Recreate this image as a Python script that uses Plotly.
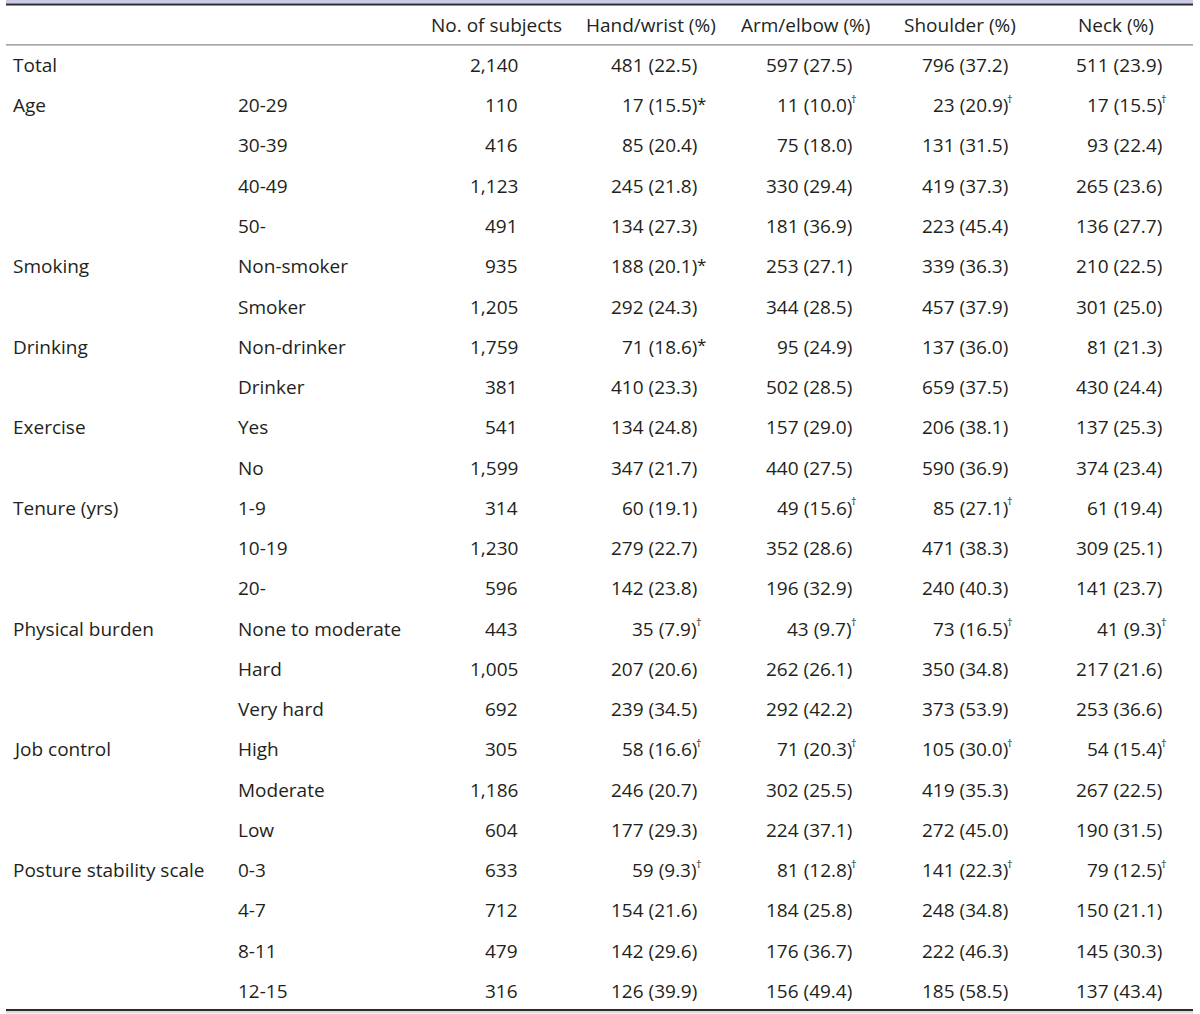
import plotly.graph_objects as go

# ---------------- data ----------------
headers = ["No. of subjects", "Hand/wrist (%)", "Arm/elbow (%)", "Shoulder (%)", "Neck (%)"]
groups = ["Total", "Age", "", "", "", "Smoking", "", "Drinking", "", "Exercise", "",
          "Tenure (yrs)", "", "", "Physical burden", "", "", "Job control", "", "",
          "Posture stability scale", "", "", ""]
subgroups = ["", "20-29", "30-39", "40-49", "50-", "Non-smoker", "Smoker", "Non-drinker", "Drinker",
             "Yes", "No", "1-9", "10-19", "20-", "None to moderate", "Hard", "Very hard",
             "High", "Moderate", "Low", "0-3", "4-7", "8-11", "12-15"]
subjects = [2140, 110, 416, 1123, 491, 935, 1205, 1759, 381, 541, 1599, 314, 1230, 596,
            443, 1005, 692, 305, 1186, 604, 633, 712, 479, 316]

hand_n = [481, 17, 85, 245, 134, 188, 292, 71, 410, 134, 347, 60, 279, 142, 35, 207, 239,
          58, 246, 177, 59, 154, 142, 126]
hand_pct = ["22.5", "15.5", "20.4", "21.8", "27.3", "20.1", "24.3", "18.6", "23.3", "24.8", "21.7",
            "19.1", "22.7", "23.8", "7.9", "20.6", "34.5", "16.6", "20.7", "29.3", "9.3", "21.6",
            "29.6", "39.9"]
hand_mark = ["", "*", "", "", "", "*", "", "*", "", "", "", "", "", "", "†", "", "", "†", "", "",
             "†", "", "", ""]

arm_n = [597, 11, 75, 330, 181, 253, 344, 95, 502, 157, 440, 49, 352, 196, 43, 262, 292, 71,
         302, 224, 81, 184, 176, 156]
arm_pct = ["27.5", "10.0", "18.0", "29.4", "36.9", "27.1", "28.5", "24.9", "28.5", "29.0", "27.5",
           "15.6", "28.6", "32.9", "9.7", "26.1", "42.2", "20.3", "25.5", "37.1", "12.8", "25.8",
           "36.7", "49.4"]
arm_mark = ["", "†", "", "", "", "", "", "", "", "", "", "†", "", "", "†", "", "", "†", "", "",
            "†", "", "", ""]

shoulder_n = [796, 23, 131, 419, 223, 339, 457, 137, 659, 206, 590, 85, 471, 240, 73, 350, 373,
              105, 419, 272, 141, 248, 222, 185]
shoulder_pct = ["37.2", "20.9", "31.5", "37.3", "45.4", "36.3", "37.9", "36.0", "37.5", "38.1",
                "36.9", "27.1", "38.3", "40.3", "16.5", "34.8", "53.9", "30.0", "35.3", "45.0",
                "22.3", "34.8", "46.3", "58.5"]
shoulder_mark = ["", "†", "", "", "", "", "", "", "", "", "", "†", "", "", "†", "", "", "†", "",
                 "", "†", "", "", ""]

neck_n = [511, 17, 93, 265, 136, 210, 301, 81, 430, 137, 374, 61, 309, 141, 41, 217, 253, 54,
          267, 190, 79, 150, 145, 137]
neck_pct = ["23.9", "15.5", "22.4", "23.6", "27.7", "22.5", "25.0", "21.3", "24.4", "25.3", "23.4",
            "19.4", "25.1", "23.7", "9.3", "21.6", "36.6", "15.4", "22.5", "31.5", "12.5", "21.1",
            "30.3", "43.4"]
neck_mark = ["", "†", "", "", "", "", "", "", "", "", "", "", "", "", "†", "", "", "†", "", "",
             "†", "", "", ""]

# ---------------- style / layout ----------------
W, H = 1200, 1014
FONT = "Open Sans"
FS = 19
TXT = "#231f20"
ROW_H = 40.26
ROW0 = 24.7          # pixel centre of header row

col_group_x = 11
col_sub_x = 236
col_n_right = 520
region_right = [699, 854, 1010, 1164]
header_centers = [496, 651, 805, 960, 1116]

y_top = -ROW0 / ROW_H
y_bot = y_top + H / ROW_H

fig = go.Figure()
fig.add_trace(go.Scatter(x=[None], y=[None], showlegend=False, hoverinfo="skip"))

ann = []
def add(x, y, text, anchor, size=FS, yshift=0, xshift=0):
    ann.append(dict(x=x, y=y, xref="x", yref="y", text=text, showarrow=False,
                    xanchor=anchor, yanchor="middle", yshift=yshift, xshift=xshift,
                    font=dict(family=FONT, size=size, color=TXT)))

# header row (row 0)
for h, cx in zip(headers, header_centers):
    add(cx, 0, h, "center")

regions = [(hand_n, hand_pct, hand_mark), (arm_n, arm_pct, arm_mark),
           (shoulder_n, shoulder_pct, shoulder_mark), (neck_n, neck_pct, neck_mark)]

for i in range(len(subgroups)):
    r = i + 1
    if groups[i]:
        add(col_group_x, r, groups[i], "left")
    if subgroups[i]:
        add(col_sub_x, r, subgroups[i], "left")
    add(col_n_right, r, f"{subjects[i]:,}", "right")
    for (cn, cp, cm), xr in zip(regions, region_right):
        add(xr, r, f"{cn[i]} ({cp[i]})", "right")
        m = cm[i]
        if m == "†":
            add(xr, r, m, "left", size=11, yshift=7, xshift=-5)
        elif m == "*":
            add(xr, r, m, "left", size=17, yshift=2, xshift=-4)

shapes = [
    # top lavender band and dark rule
    dict(type="rect", xref="x", yref="paper", x0=6, x1=1193, y0=1 - 3.5 / H, y1=1,
         fillcolor="#c9cbe6", line_width=0, layer="below"),
    dict(type="rect", xref="x", yref="paper", x0=6, x1=1193, y0=1 - 5.6 / H, y1=1 - 3.4 / H,
         fillcolor="#2b2b2b", line_width=0),
    # header rule
    dict(type="line", xref="x", yref="y", x0=6, x1=1193, y0=0.5, y1=0.5,
         line=dict(color="#8a8a8a", width=1.2)),
    # bottom rule
    dict(type="rect", xref="x", yref="paper", x0=6, x1=1193, y0=1 - 1011.2 / H, y1=1 - 1009 / H,
         fillcolor="#2b2b2b", line_width=0),
    dict(type="rect", xref="x", yref="paper", x0=6, x1=1193, y0=1 - 1013.5 / H, y1=1 - 1011.2 / H,
         fillcolor="#dddddd", line_width=0),
]

fig.update_layout(
    width=W, height=H,
    margin=dict(l=0, r=0, t=0, b=0),
    paper_bgcolor="white", plot_bgcolor="white",
    xaxis=dict(range=[0, W], visible=False, fixedrange=True),
    yaxis=dict(range=[y_bot, y_top], visible=False, fixedrange=True),
    annotations=ann, shapes=shapes, showlegend=False,
)

fig.write_html("out.html", config={"displayModeBar": False},
               post_script="document.body.style.margin='0';document.body.style.overflow='hidden';")
